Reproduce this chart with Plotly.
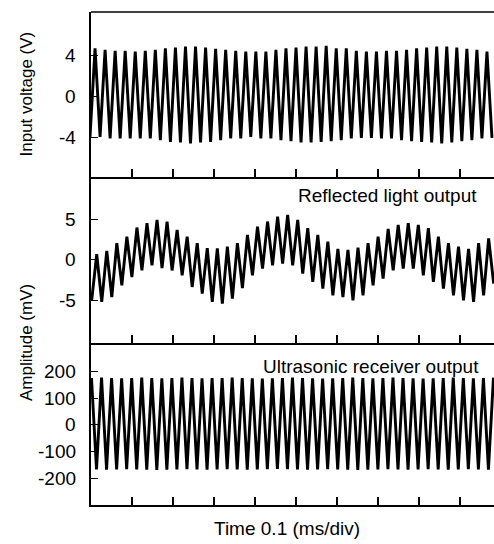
import plotly.graph_objects as go

# ---------------- data ----------------
# time axis in ms, 0.1 ms per division
TIME_RANGE_MS = [0.0, 0.983]
TIME_DTICK_MS = 0.1
HALF_PERIOD_MS = 0.012256          # ~40.8 kHz drive, half period between extremes

# Input voltage (V): alternating trough / peak values, starting with a trough
input_t0 = -0.0024
input_troughs = [-4.00, -3.98, -4.14, -4.14, -4.14, -4.14, -4.14, -4.30, -4.47, -4.53,
                 -4.63, -4.53, -4.47, -4.30, -4.14, -4.14, -3.98, -4.14, -4.14, -4.30,
                 -4.40, -4.53, -4.53, -4.47, -4.40, -4.30, -4.14, -4.08, -4.08, -4.14,
                 -4.14, -4.30, -4.40, -4.47, -4.53, -4.63, -4.53, -4.40, -4.30, -4.14,
                 -4.08]
input_peaks = [4.66, 4.50, 4.40, 4.40, 4.34, 4.40, 4.50, 4.66, 4.73, 4.82,
               4.82, 4.73, 4.60, 4.50, 4.40, 4.34, 4.34, 4.34, 4.50, 4.66,
               4.73, 4.82, 4.82, 4.89, 4.66, 4.66, 4.40, 4.34, 4.34, 4.40,
               4.40, 4.50, 4.66, 4.73, 4.82, 4.82, 4.73, 4.60, 4.50, 4.34]

# Reflected light output (mV): alternating trough / peak, starting with a trough
light_t0 = 0.0017
light_troughs = [-5.02, -5.23, -4.62, -3.18, -2.15, -1.34, -0.72, -1.04, -1.34, -1.94,
                 -3.38, -4.20, -5.23, -5.44, -4.82, -3.52, -1.94, -1.11, -0.70, -0.50,
                 -0.70, -1.73, -2.76, -3.59, -4.41, -4.62, -5.03, -4.41, -3.18, -2.35,
                 -1.32, -1.11, -1.11, -1.94, -2.76, -3.59, -4.41, -5.03, -5.23, -4.41,
                 -2.97]
light_peaks = [0.66, 1.08, 2.02, 2.84, 3.96, 4.49, 4.90, 4.70, 3.67, 2.84,
               2.02, 1.40, 1.40, 1.60, 2.02, 3.05, 4.08, 4.70, 5.31, 5.52,
               4.90, 3.87, 3.05, 2.23, 1.32, 1.20, 1.49, 2.02, 2.84, 3.79,
               4.28, 4.49, 4.28, 3.87, 2.84, 2.02, 1.60, 1.32, 2.02, 2.62]

# Ultrasonic receiver output (mV): alternating peak / trough, starting with a peak
us_t0 = 0.0012
us_peaks = [176, 177, 176, 175, 176, 177, 176, 175, 176, 177,
            176, 175, 176, 176, 177, 176, 175, 174, 175, 176,
            177, 176, 175, 174, 175, 176, 177, 176, 175, 176,
            177, 176, 175, 174, 175, 176, 177, 176, 175, 176,
            177]
us_troughs = [-167, -168, -167, -166, -167, -168, -169, -168, -167, -166,
              -167, -168, -167, -166, -167, -168, -167, -166, -165, -166,
              -167, -168, -167, -166, -167, -168, -169, -168, -167, -166,
              -167, -168, -167, -166, -167, -168, -167, -166, -167, -168]

input_ticks = [-4, 0, 4]
input_ticktext = ["-4", "0", "4"]
light_ticks = [-5, 0, 5]
light_ticktext = ["-5", "0", "5"]
us_ticks = [-200, -100, 0, 100, 200]
us_ticktext = ["-200", "-100", "0", "100", "200"]

panel_labels = ["Reflected light output", "Ultrasonic receiver output"]
y_title_top = "Input voltage (V)"
y_title_bottom = "Amplitude (mV)"
x_title = "Time 0.1 (ms/div)"


def interleave(first, second):
    out = []
    for i in range(max(len(first), len(second))):
        if i < len(first):
            out.append(first[i])
        if i < len(second):
            out.append(second[i])
    return out


def times(t0, n):
    return [t0 + i * HALF_PERIOD_MS for i in range(n)]


input_y = interleave(input_troughs, input_peaks)
light_y = interleave(light_troughs, light_peaks)
us_y = interleave(us_peaks, us_troughs)

FONT = "Liberation Sans, Arial, Helvetica, sans-serif"
LW = 2.9

fig = go.Figure()
# top panel -> x / y, middle -> x2 / y2, bottom -> x3 / y3
fig.add_trace(go.Scatter(x=times(input_t0, len(input_y)), y=input_y, mode="lines",
                         line=dict(color="black", width=LW), xaxis="x", yaxis="y",
                         showlegend=False))
fig.add_trace(go.Scatter(x=times(light_t0, len(light_y)), y=light_y, mode="lines",
                         line=dict(color="black", width=LW), xaxis="x2", yaxis="y2",
                         showlegend=False))
fig.add_trace(go.Scatter(x=times(us_t0, len(us_y)), y=us_y, mode="lines",
                         line=dict(color="black", width=LW), xaxis="x3", yaxis="y3",
                         showlegend=False))

H = 493.0
W = 403.0
d_top = [328 / H, 1.0]
d_mid = [162 / H, 328 / H]
d_bot = [0.0, 162 / H]

xcommon = dict(range=TIME_RANGE_MS, tick0=0, dtick=TIME_DTICK_MS, ticks="inside",
               ticklen=8, tickwidth=1.6, tickcolor="black", showticklabels=False,
               showline=True, linecolor="black", linewidth=1.5,
               showgrid=False, zeroline=False, domain=[0, 1])
ycommon = dict(ticks="inside", ticklen=7, tickwidth=1.4, tickcolor="black",
               showline=True, linecolor="black", linewidth=1.8, showgrid=False,
               zeroline=False, showticklabels=False)

fig.update_layout(
    width=494, height=544,
    margin=dict(l=91, r=0, t=12, b=39),
    paper_bgcolor="white", plot_bgcolor="white",
    font=dict(family=FONT, color="black"),
    xaxis=dict(**xcommon, anchor="y"),
    xaxis2=dict(**xcommon, anchor="y2"),
    xaxis3=dict(**xcommon, anchor="y3"),
    yaxis=dict(**ycommon, domain=d_top, range=[-7.9, 8.2], tickvals=input_ticks,
               anchor="x"),
    yaxis2=dict(**ycommon, domain=d_mid, range=[-10.3, 10.2], tickvals=light_ticks,
                anchor="x2"),
    yaxis3=dict(**ycommon, domain=d_bot, range=[-300, 307], tickvals=us_ticks,
                anchor="x3"),
)

# plain top border of the upper panel
fig.add_shape(type="line", xref="x domain", yref="y domain", x0=0, x1=1, y0=1, y1=1,
              line=dict(color="black", width=1.5))

tick_font = dict(family=FONT, size=19, color="black")
LABEL_X = (78 - 91) / W   # right edge of the tick labels, in paper units
for yref, vals, texts in (("y", input_ticks, input_ticktext),
                          ("y2", light_ticks, light_ticktext),
                          ("y3", us_ticks, us_ticktext)):
    for v, t in zip(vals, texts):
        fig.add_annotation(text=t, xref="paper", yref=yref, x=LABEL_X, y=v,
                           xanchor="right", yanchor="middle", showarrow=False,
                           font=tick_font)

ann_font = dict(family=FONT, size=19, color="black")
fig.add_annotation(text=panel_labels[0], xref="paper", yref="paper",
                   x=(479 - 91) / W, y=(505 - 195) / H, xanchor="right",
                   yanchor="middle", showarrow=False, font=ann_font)
fig.add_annotation(text=panel_labels[1], xref="paper", yref="paper",
                   x=(481 - 91) / W, y=(505 - 366) / H, xanchor="right",
                   yanchor="middle", showarrow=False, font=ann_font)
fig.add_annotation(text=x_title, xref="paper", yref="paper",
                   x=(287 - 91) / W, y=(505 - 528) / H, xanchor="center",
                   yanchor="middle", showarrow=False, font=ann_font)
fig.add_annotation(text=y_title_top, xref="paper", yref="paper", textangle=-90,
                   x=(26 - 91) / W, y=(505 - 94.5) / H, xanchor="center",
                   yanchor="middle", showarrow=False,
                   font=dict(family=FONT, size=17, color="black"))
fig.add_annotation(text=y_title_bottom, xref="paper", yref="paper", textangle=-90,
                   x=(26 - 91) / W, y=(505 - 343) / H, xanchor="center",
                   yanchor="middle", showarrow=False,
                   font=dict(family=FONT, size=17, color="black"))

fig.write_html("out.html", config={"displayModeBar": False})

# remove the browser's default page margin so the figure sits at (0, 0)
with open("out.html", "r", encoding="utf-8") as f:
    html = f.read()
html = html.replace("<head>", "<head><style>html,body{margin:0;padding:0;overflow:hidden;}</style>", 1)
with open("out.html", "w", encoding="utf-8") as f:
    f.write(html)
